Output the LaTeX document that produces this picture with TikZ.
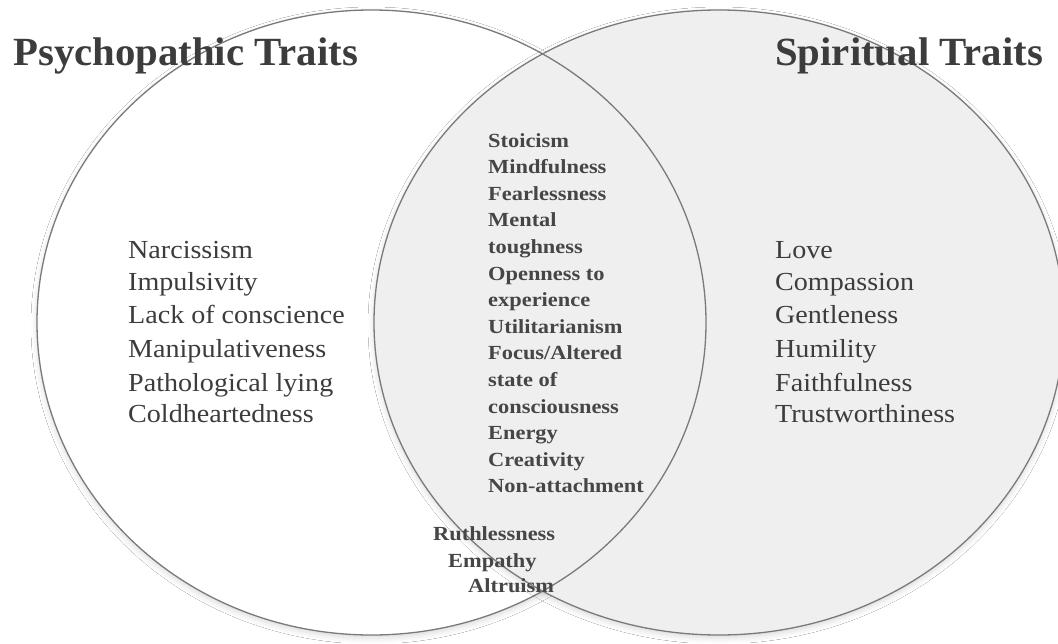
\documentclass[tikz,border=0pt]{standalone}
\usepackage{fontspec}
\setmainfont{Liberation Serif}[FakeStretch=1.12]
\newfontfamily\listfont{Liberation Serif}[FakeStretch=1.08]
\newfontfamily\titlefont{Liberation Serif}[FakeStretch=1.02]
\usetikzlibrary{shadows.blur}
\definecolor{txt}{HTML}{3C3C3C}
\definecolor{rfill}{HTML}{EFEFEF}
\definecolor{edge}{HTML}{7A7A7A}
\tikzset{
  circfill/.style={blur shadow={shadow xshift=0pt, shadow yshift=-3pt, shadow blur radius=6pt, shadow opacity=15}},
  circedge/.style={draw=edge, line width=1.3pt},
  title/.style={anchor=base west, inner sep=0pt, text=txt, font=\titlefont\bfseries\fontsize{40}{40}\selectfont},
  listtxt/.style={anchor=base west, inner sep=0pt, text=txt, font=\listfont\fontsize{26}{26}\selectfont},
  midtxt/.style={anchor=base west, inner sep=0pt, text=txt!95, font=\bfseries\fontsize{20}{20}\selectfont},
}
\begin{document}
\begin{tikzpicture}[x=1pt,y=-1pt]
\useasboundingbox (0,0) rectangle (1058,643);
\fill[white] (0,0) rectangle (1058,643);
% fills
\path[circfill, fill=white] (371.5,322.5) ellipse [x radius=334.5, y radius=312.5];
\path[circfill, fill=rfill] (719,322.5) ellipse [x radius=345, y radius=312.5];
% outlines
\draw[circedge] (371.5,322.5) ellipse [x radius=334.5, y radius=312.5];
\draw[circedge] (719,322.5) ellipse [x radius=345, y radius=312.5];
% titles
\node[title] (tpsy) at (13,65) {Psychopathic Traits};
\node[title] (tspi) at (775,65) {Spiritual Traits};
% left list
\foreach \t/\y [count=\i] in {Narcissism/258, Impulsivity/290, Lack of conscience/323, Manipulativeness/357, Pathological lying/391, Coldheartedness/422}
  \node[listtxt] (p\i) at (128,\y) {\t};
% right list
\foreach \t/\y [count=\i] in {Love/258, Compassion/290, Gentleness/323, Humility/357, Faithfulness/391, Trustworthiness/422}
  \node[listtxt] (s\i) at (775,\y) {\t};
% middle list
\foreach \t [count=\i] in {Stoicism, Mindfulness, Fearlessness, Mental, toughness, Openness to, experience, Utilitarianism, Focus/Altered, state of, consciousness, Energy, Creativity, Non-attachment}
  \node[midtxt] (m\i) at (488,{147+26.6*(\i-1)}) {\t};
% bottom bold
\node[midtxt] (b1) at (433,540) {Ruthlessness};
\node[midtxt] (b2) at (448,567) {Empathy};
\node[midtxt] (b3) at (468,592) {Altruism};
\end{tikzpicture}
\end{document}
